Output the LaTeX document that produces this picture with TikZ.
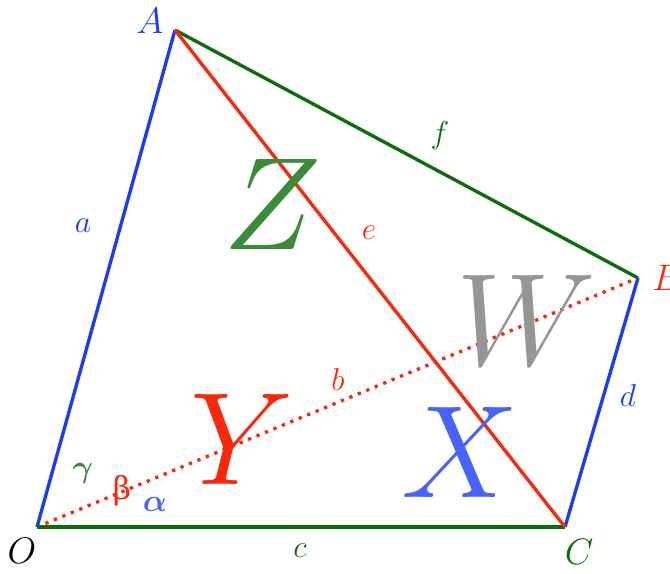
\RequirePackage{fix-cm}
\documentclass[tikz,border=0pt]{standalone}
\usepackage{amsmath}
\usepackage{amssymb}
\usepackage{fontspec}
\usepackage{tikz}
\newfontfamily\grfont{DejaVu Serif}
\definecolor{sideblue}{RGB}{25,60,250}
\definecolor{sidered}{RGB}{250,40,10}
\definecolor{sidegreen}{RGB}{10,110,10}
\definecolor{sidegray}{RGB}{150,150,150}

\begin{document}
\begin{tikzpicture}[
      side/.style={line width=1.9pt},
      vertex/.style={font=\fontsize{21}{24}\selectfont},
      lbl/.style={font=\fontsize{18}{20}\selectfont},
      big/.style={font=\fontsize{75}{80}\selectfont}
      ]
      \useasboundingbox (0,0) rectangle (13.4,11.46);

      % Points
      \coordinate (O) at (0.74,0.92);
      \coordinate (A) at (3.5,10.86);
      \coordinate (B) at (12.76,5.9);
      \coordinate (C) at (11.3,0.92);

      % Sides
      \draw[side, sidered, dash pattern=on 1.9pt off 3.3pt] (O) -- (B);
      \draw[side, sideblue] (O) -- (A);
      \draw[side, sidegreen] (A) -- (B);
      \draw[side, sideblue] (B) -- (C);
      \draw[side, sidegreen] (C) -- (O);
      \draw[side, sidered] (A) -- (C);

      % Vertex labels
      \node[vertex, sideblue] (labA) at (3.0,11.04) {$A$};
      \node[vertex, sidered] (labB) at (13.34,5.9) {$B$};
      \node[vertex, black] (labO) at (0.44,0.44) {$O$};
      \node[vertex, sidegreen] (labC) at (11.58,0.42) {$C$};

      % Side labels
      \node[lbl, sideblue] (sa) at (1.66,6.94) {$a$};
      \node[lbl, sidered] (sb) at (6.76,3.86) {$b$};
      \node[lbl, sidegreen] (sc) at (6.0,0.44) {$c$};
      \node[lbl, sideblue] (sd) at (12.56,3.54) {$d$};
      \node[lbl, sidered] (se) at (7.38,6.8) {$e$};
      \node[lbl, sidegreen] (sf) at (8.8,8.74) {$f$};

      % Angles
      \node[lbl, sidegreen!80] (ang3) at (1.66,1.98) {$\boldsymbol{\gamma}$};
      \node[lbl, sidered] (ang2) at (2.44,1.64) {\grfont β};
      \node[lbl, sideblue!80] (ang1) at (3.1,1.38) {$\boldsymbol{\alpha}$};

      % Regions
      \node[big, sidegreen!80] (regZ) at (5.44,7.38) {$Z$};
      \node[big, sidegray] (regW) at (10.52,5.06) {$W$};
      \node[big, sidered] (regY) at (4.84,2.68) {$Y$};
      \node[big, sideblue!80] (regX) at (9.2,2.42) {$X$};
    \end{tikzpicture}
\end{document}
